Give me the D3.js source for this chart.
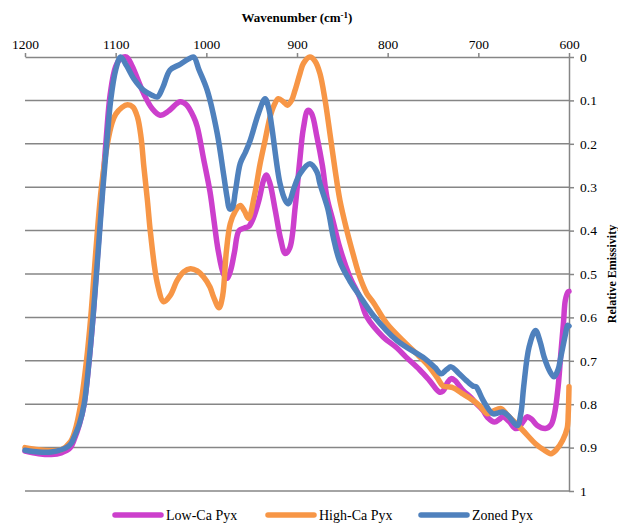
<!DOCTYPE html>
<html>
<head>
<meta charset="utf-8">
<script src="https://cdn.jsdelivr.net/npm/d3@7"></script>
<style>
  body { margin: 0; background: #fff; }
  text { font-family: "Liberation Serif", "Times New Roman", serif; fill: #000; }
</style>
</head>
<body>
<script>
// [wavenumber, relative emissivity]
var lowCa = [
  [1200,0.908],[1185,0.914],[1171,0.916],[1160,0.912],[1150,0.9],[1145.8,0.882],[1140,0.847],
  [1134.8,0.8],[1129.3,0.7],[1125,0.6],[1121.5,0.5],[1118,0.4],[1114.5,0.3],[1110.5,0.19],
  [1106,0.085],[1100,0.022],[1094,0.003],[1088,0.0],[1082,0.02],[1075,0.055],[1069,0.085],
  [1060,0.118],[1051,0.134],[1042,0.125],[1033,0.108],[1029,0.103],[1022,0.11],[1014,0.138],
  [1010,0.161],[1003,0.235],[996,0.31],[992,0.37],[987,0.445],[981,0.5],[977,0.51],[973,0.49],
  [969,0.45],[964,0.4],[958,0.394],[953,0.39],[948,0.37],[942,0.33],[937,0.285],[934,0.272],
  [930,0.29],[924,0.353],[918,0.42],[913,0.453],[908,0.44],[902,0.346],[897,0.24],[893,0.165],
  [888,0.123],[884,0.13],[878,0.184],[872,0.25],[867,0.323],[860,0.38],[853,0.438],[842,0.505],
  [831,0.553],[823,0.599],[805,0.645],[790,0.67],[780,0.691],[765,0.72],[754,0.745],[743,0.772],
  [739,0.77],[734,0.75],[730,0.741],[726,0.745],[717,0.768],[708,0.785],[702,0.799],[695,0.814],
  [690,0.83],[682,0.841],[677,0.835],[673,0.829],[666,0.84],[659,0.856],[655,0.853],[650,0.838],
  [646,0.829],[641,0.835],[635,0.849],[626,0.856],[620,0.848],[616,0.822],[612,0.76],[609,0.683],
  [606,0.61],[604,0.56],[601,0.541],[600,0.54]
];

var highCa = [
  [1200,0.9],[1185,0.905],[1171,0.907],[1160,0.905],[1150,0.887],[1145,0.862],[1138.5,0.8],
  [1132.2,0.7],[1127.5,0.6],[1123.8,0.5],[1120.1,0.4],[1115.7,0.3],[1109.1,0.2],[1104,0.152],
  [1100,0.132],[1093,0.116],[1087,0.11],[1081,0.115],[1076,0.138],[1072,0.185],[1068.9,0.253],
  [1065,0.33],[1061.5,0.407],[1054,0.522],[1047,0.564],[1040,0.55],[1032,0.514],[1025,0.495],
  [1017.6,0.488],[1010,0.493],[1003,0.507],[996,0.53],[992,0.553],[986,0.578],[982,0.55],
  [978,0.45],[973.6,0.384],[968,0.355],[962.6,0.342],[958,0.355],[953.5,0.372],[947,0.32],
  [940.7,0.246],[935,0.19],[929.7,0.138],[925,0.11],[920.5,0.096],[915,0.103],[910.7,0.111],
  [906,0.1],[902.2,0.077],[897,0.04],[893,0.015],[885.7,0.0],[880,0.01],[874.7,0.038],[869,0.1],
  [863.7,0.176],[858,0.26],[852.7,0.33],[845,0.4],[838,0.455],[831,0.505],[823,0.545],[816,0.565],
  [801,0.614],[780,0.66],[765,0.69],[754,0.714],[745,0.74],[739,0.758],[733,0.76],[728,0.762],
  [718,0.775],[706,0.791],[698,0.805],[690,0.822],[683,0.815],[675,0.81],[668,0.825],[662,0.837],
  [651,0.86],[637,0.891],[628,0.905],[620,0.914],[614,0.905],[607,0.883],[602,0.855],[600.8,0.82],
  [600,0.76]
];

var zoned = [
  [1200,0.906],[1185,0.91],[1171,0.91],[1160,0.905],[1153,0.898],[1149,0.89],[1145.8,0.876],
  [1140,0.845],[1134.8,0.8],[1129.3,0.7],[1125,0.6],[1121.2,0.5],[1117.6,0.4],[1114,0.3],
  [1109.9,0.2],[1105.5,0.1],[1100,0.03],[1094.5,0.0],[1088,0.02],[1080,0.05],[1069,0.077],
  [1060,0.088],[1054,0.092],[1048,0.07],[1040,0.03],[1030,0.018],[1020,0.005],[1014,0.0],
  [1008,0.03],[999,0.077],[988,0.176],[981,0.27],[977,0.325],[974.4,0.35],[971.5,0.348],
  [968,0.31],[962.6,0.245],[957,0.22],[951.6,0.192],[942.5,0.13],[935.2,0.096],[931,0.12],
  [927.8,0.161],[918.7,0.292],[913,0.33],[909.6,0.338],[903,0.3],[896.7,0.269],[885.7,0.246],
  [878,0.265],[874.7,0.292],[866,0.35],[860,0.415],[853,0.47],[842,0.515],[831,0.55],[816,0.595],
  [790,0.653],[759,0.695],[748,0.715],[741,0.73],[735,0.72],[730,0.714],[722,0.728],[713.5,0.745],
  [706,0.758],[702.5,0.76],[700,0.768],[695,0.79],[684,0.822],[678,0.82],[673,0.818],[666,0.829],
  [657,0.849],[653,0.82],[650,0.76],[644,0.668],[637,0.63],[632,0.655],[627.5,0.691],[621,0.725],
  [616.5,0.737],[612,0.72],[609,0.691],[604,0.64],[601.5,0.618],[600,0.62]
];

var seriesNames = ["Low-Ca Pyx", "High-Ca Pyx", "Zoned Pyx"];
var seriesColors = ["#cc3fcc", "#f79646", "#4f81bd"];
var xTicks = [1200, 1100, 1000, 900, 800, 700, 600];
var yTicks = [0, 0.1, 0.2, 0.3, 0.4, 0.5, 0.6, 0.7, 0.8, 0.9, 1];
var yTickLabels = ["0", "0.1", "0.2", "0.3", "0.4", "0.5", "0.6", "0.7", "0.8", "0.9", "1"];

var W = 618, H = 523;
var plotL = 25, plotR = 569, plotT = 57, plotB = 491;
var serif = "Liberation Serif, Times New Roman, serif";

var svg = d3.select("body").append("svg")
  .attr("width", W)
  .attr("height", H)
  .attr("font-family", serif);

var x = d3.scaleLinear().domain([1200, 600]).range([plotL, plotR]);
var y = d3.scaleLinear().domain([0, 1]).range([plotT, plotB]);

var grey = "#868686";

// horizontal grid
svg.append("g").selectAll("line")
  .data(yTicks.slice(1))
  .enter().append("line")
  .attr("x1", plotL).attr("x2", plotR)
  .attr("y1", function(d) { return y(d); })
  .attr("y2", function(d) { return y(d); })
  .attr("stroke", grey)
  .attr("stroke-width", 1.5);

// top axis
var xAxis = svg.append("g")
  .attr("transform", "translate(0," + plotT + ")")
  .call(d3.axisTop(x).tickValues(xTicks).tickFormat(d3.format("d"))
    .tickSize(4).tickSizeOuter(0).tickPadding(4));
xAxis.attr("font-family", serif).attr("font-size", 13.5);
xAxis.select(".domain").attr("stroke", grey).attr("stroke-width", 1.5);
xAxis.selectAll(".tick line").attr("stroke", grey).attr("stroke-width", 1.5);
xAxis.selectAll("text").attr("fill", "#000");

// right axis
var yAxis = svg.append("g")
  .attr("transform", "translate(" + plotR + ",0)")
  .call(d3.axisRight(y).tickValues(yTicks)
    .tickFormat(function(d, i) { return yTickLabels[i]; })
    .tickSize(5).tickSizeOuter(0).tickPadding(6));
yAxis.attr("font-family", serif).attr("font-size", 13.5);
yAxis.select(".domain").attr("stroke", grey).attr("stroke-width", 1.5);
yAxis.selectAll(".tick line").attr("stroke", grey).attr("stroke-width", 1.5);
yAxis.selectAll("text").attr("fill", "#000");

// titles
var xt = svg.append("text")
  .attr("x", 297).attr("y", 22)
  .attr("text-anchor", "middle")
  .style("font-size", "13px")
  .style("font-weight", "bold");
xt.append("tspan").text("Wavenumber (cm");
xt.append("tspan").attr("dy", -4).style("font-size", "9px").text("-1");
xt.append("tspan").attr("dy", 4).text(")");

svg.append("text")
  .attr("transform", "translate(616,274) rotate(-90)")
  .attr("text-anchor", "middle")
  .style("font-size", "12px")
  .style("font-weight", "bold")
  .text("Relative Emissivity");

// lines
var line = d3.line()
  .x(function(d) { return x(d[0]); })
  .y(function(d) { return y(d[1]); })
  .curve(d3.curveCatmullRom.alpha(0.5));

var allSeries = [lowCa, highCa, zoned];
svg.append("g").selectAll("path")
  .data(allSeries)
  .enter().append("path")
  .attr("d", line)
  .attr("fill", "none")
  .attr("stroke", function(d, i) { return seriesColors[i]; })
  .attr("stroke-width", 5.5)
  .attr("stroke-linejoin", "round")
  .attr("stroke-linecap", "round");

// legend
var legendX = [115, 268, 421];
var lg = svg.append("g").selectAll("g")
  .data(seriesNames)
  .enter().append("g")
  .attr("transform", function(d, i) { return "translate(" + legendX[i] + ",515)"; });
lg.append("line")
  .attr("x1", 0).attr("x2", 46)
  .attr("stroke", function(d, i) { return seriesColors[i]; })
  .attr("stroke-width", 5.5)
  .attr("stroke-linecap", "round");
lg.append("text")
  .attr("x", 51).attr("y", 5)
  .style("font-size", "14px")
  .text(function(d) { return d; });
</script>
</body>
</html>
